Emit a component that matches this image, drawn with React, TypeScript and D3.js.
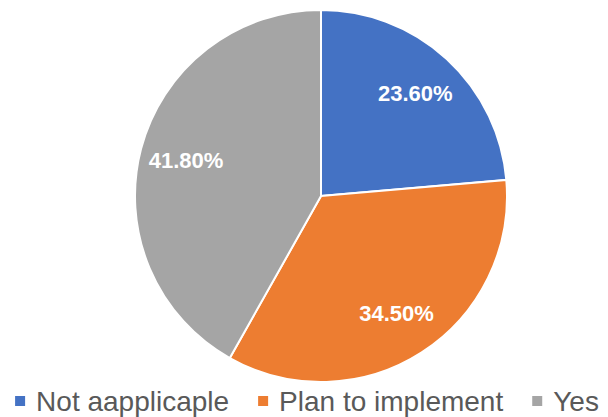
import React from "react";
import * as d3 from "d3";

const categories = ["Not aapplicaple", "Plan to implement", "Yes"];
const values = [23.6, 34.5, 41.8];
const labels = ["23.60%", "34.50%", "41.80%"];
const colors = ["#4472C4", "#ED7D31", "#A5A5A5"];

const W = 608;
const H = 417;
const CX = 321;
const CY = 196;
const R = 186;
const LEGEND_FONT = 28;
const LEGEND_FAMILY = "'Liberation Sans', Arial, sans-serif";

function measure(text: string, size: number, family: string): number {
  const c = document.createElement("canvas").getContext("2d");
  if (!c) return text.length * size * 0.5;
  c.font = `${size}px ${family}`;
  return c.measureText(text).width;
}

export default function App() {
  const pie = d3
    .pie<number>()
    .sort(null)
    .value((d) => d);
  const arcs = pie(values);
  const arc = d3.arc<d3.PieArcDatum<number>>().innerRadius(0).outerRadius(R);
  const labelArc = d3
    .arc<d3.PieArcDatum<number>>()
    .innerRadius(R * 0.75)
    .outerRadius(R * 0.75);

  const sq = 10;
  const sqGap = 11;
  const itemGap = 29;
  const widths = categories.map((c) => measure(c, LEGEND_FONT, LEGEND_FAMILY));
  const total =
    widths.reduce((a, w) => a + sq + sqGap + w, 0) + itemGap * (categories.length - 1);
  let lx = 307 - total / 2;
  const legendItems = categories.map((c, i) => {
    const x = lx;
    lx += sq + sqGap + widths[i] + itemGap;
    return { c, x, color: colors[i] };
  });

  return (
    <svg
      width={W}
      height={H}
      style={{ position: "absolute", left: 0, top: 0, background: "#fff" }}
    >
      <g transform={`translate(${CX},${CY})`}>
        {arcs.map((a, i) => (
          <path key={i} d={arc(a) || ""} fill={colors[i]} stroke="#fff" strokeWidth={2} />
        ))}
        {arcs.map((a, i) => {
          const [x, y] = labelArc.centroid(a);
          return (
            <text
              key={"l" + i}
              x={x}
              y={y}
              textAnchor="middle"
              dominantBaseline="central"
              fill="#fff"
              fontFamily="'Liberation Sans', Arial, sans-serif"
              fontWeight="bold"
              fontSize={22}
            >
              {labels[i]}
            </text>
          );
        })}
      </g>
      <g>
        {legendItems.map((it, i) => (
          <g key={"lg" + i}>
            <rect x={it.x} y={396} width={sq} height={sq} fill={it.color} />
            <text
              x={it.x + sq + sqGap}
              y={411}
              fill="#595959"
              fontFamily={LEGEND_FAMILY}
              fontSize={LEGEND_FONT}
            >
              {it.c}
            </text>
          </g>
        ))}
      </g>
    </svg>
  );
}
